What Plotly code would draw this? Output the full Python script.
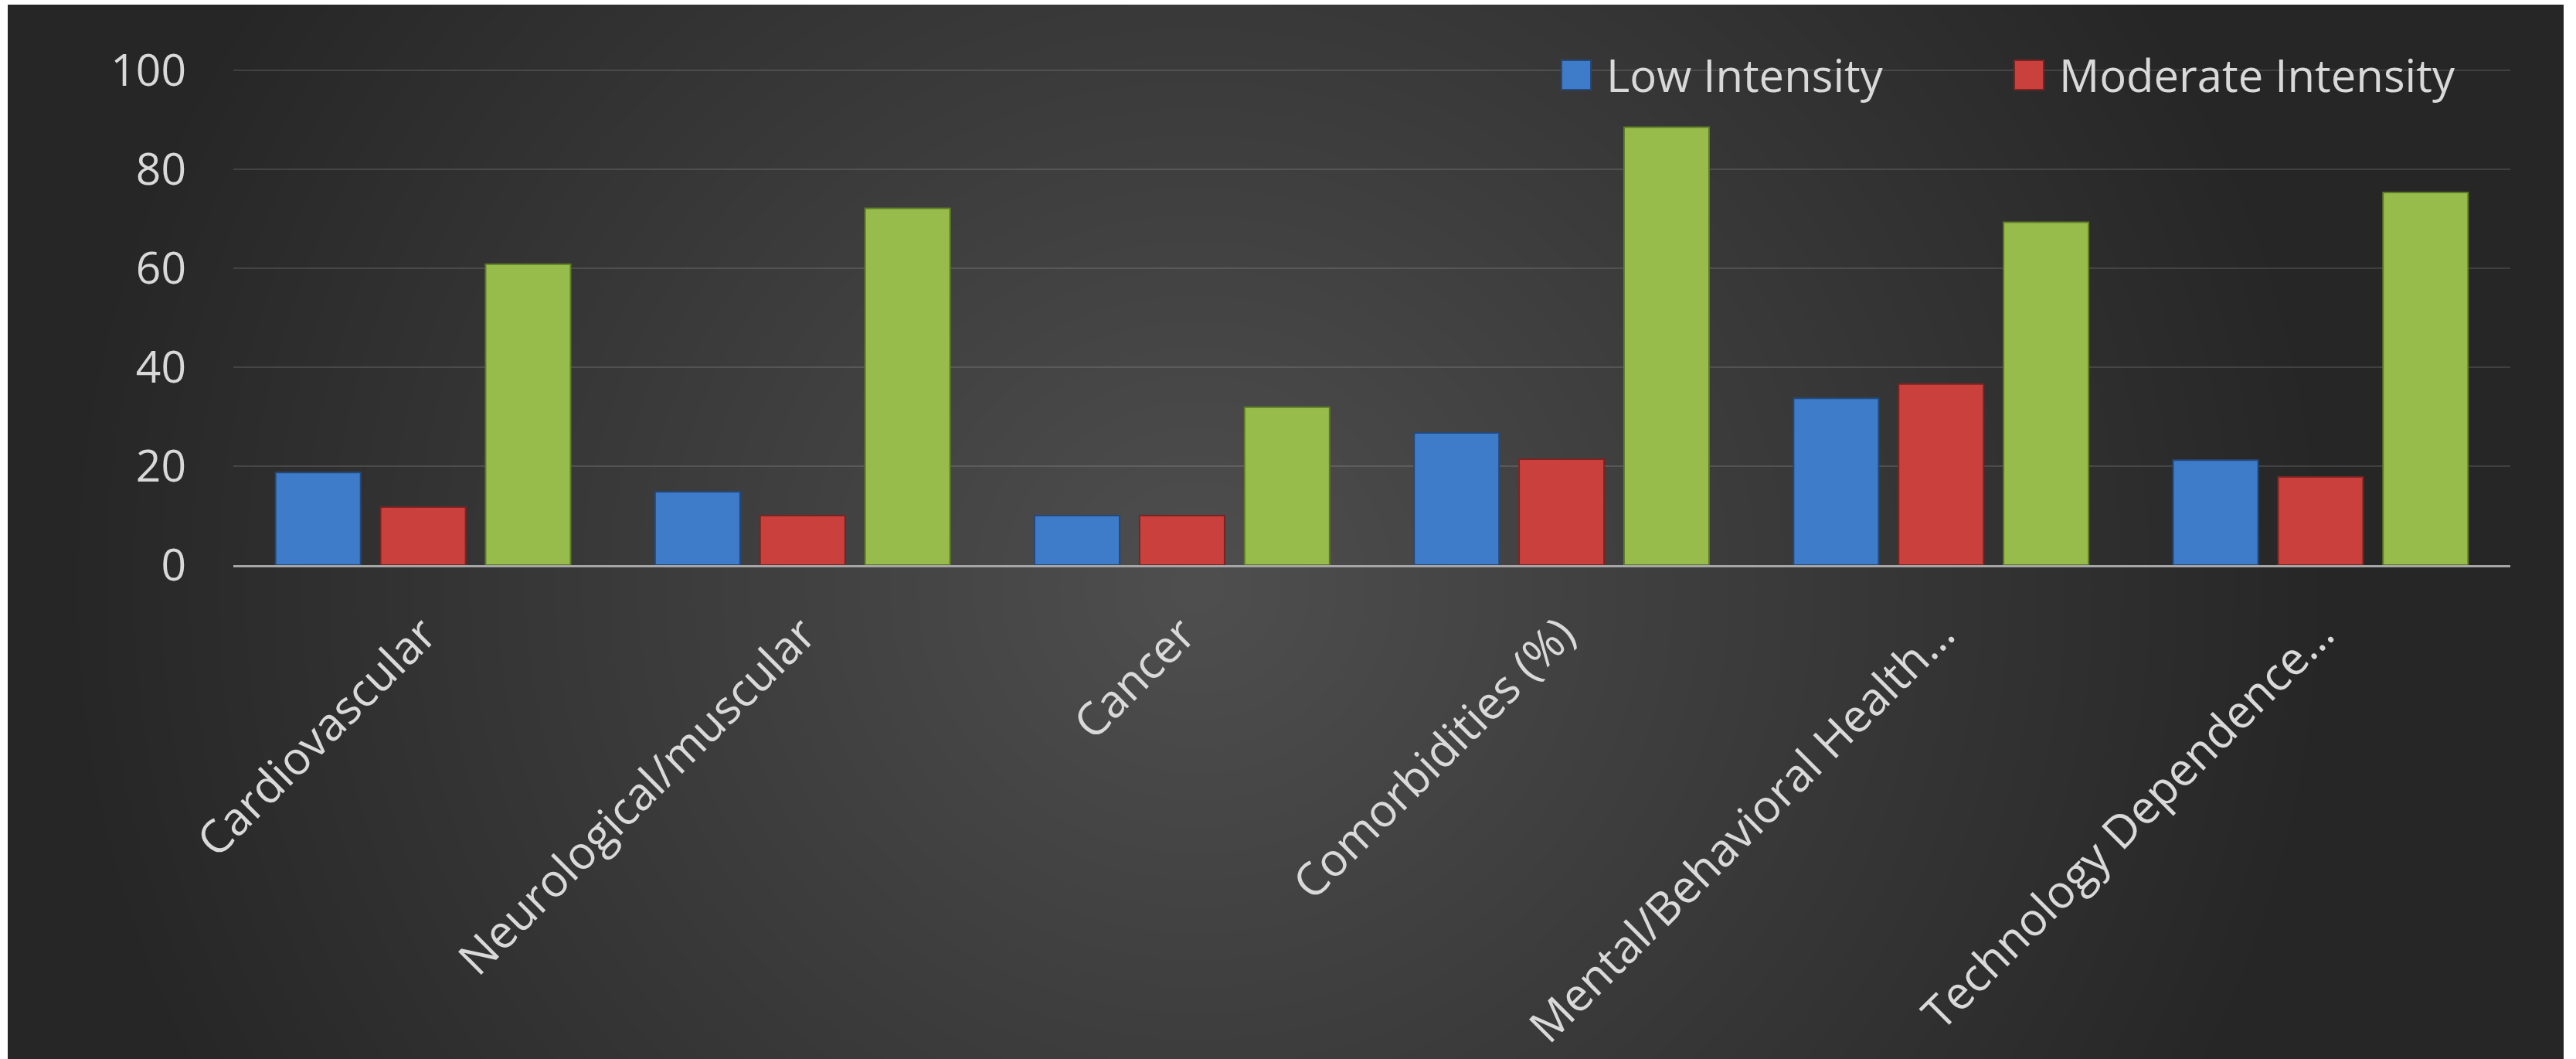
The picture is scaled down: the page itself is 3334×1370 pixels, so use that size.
import plotly.graph_objects as go

categories = ["Cardiovascular", "Neurological/muscular", "Cancer", "Comorbidities (%)",
              "Mental/Behavioral Health…", "Technology Dependence…"]
low_intensity = [18.7, 14.8, 10.0, 26.7, 33.7, 21.2]
moderate_intensity = [11.7, 10.0, 10.0, 21.4, 36.6, 17.8]
high_intensity = [60.8, 72.1, 31.9, 88.5, 69.3, 75.3]
y_ticks = [0, 20, 40, 60, 80, 100]

W, H = 3334, 1370
YMAX = 100.3
L, R, B = 302, 3249, 731
T = B - (B - 91) * YMAX / 100.0  # so that 100 sits at y=91 px

def px(x):
    return (x - L) / (R - L)

def py(y):
    return (B - y) / (B - T)

FONT = "Open Sans"
TXT = "#d9d9d9"

fig = go.Figure()
series = [
    ("Low Intensity", low_intensity, "#3e7bc9", "#24497a"),
    ("Moderate Intensity", moderate_intensity, "#c9403d", "#7a2422"),
    ("High Intensity", high_intensity, "#98bc4b", "#5d7a26"),
]
for name, vals, col, edge in series:
    fig.add_trace(go.Bar(x=categories, y=vals, name=name, showlegend=False,
                         marker=dict(color=col, line=dict(color=edge, width=2))))

shapes = []
# dark panel
shapes.append(dict(type="rect", xref="paper", yref="paper", layer="below",
                   x0=px(10), x1=px(3318), y0=py(1370), y1=py(6),
                   fillcolor="#262626", line=dict(width=0)))
# radial lightening
cx, cy = 1550, 760
N = 40
RMAX = 1450
for k in range(N, 0, -1):
    r = RMAX * k / N
    shapes.append(dict(type="circle", xref="paper", yref="paper", layer="below",
                       x0=px(cx - r), x1=px(cx + r), y0=py(cy + r * 0.95), y1=py(cy - r * 0.95),
                       fillcolor="rgba(255,255,255,0.0068)", line=dict(width=0)))
# white masks outside panel
for (x0, x1, y0, y1) in [(0, 10, -2000, 3000), (3318, 3334 + 50, -2000, 3000),
                         (0, 3400, -2000, 6)]:
    shapes.append(dict(type="rect", xref="paper", yref="paper", layer="below",
                       x0=px(x0), x1=px(x1), y0=py(y1), y1=py(y0),
                       fillcolor="white", line=dict(width=0)))
# manual legend squares
legend_items = [("Low Intensity", 2021, "#3e7bc9", "#24497a"),
                ("Moderate Intensity", 2607, "#c9403d", "#7a2422")]
annotations = []
for name, x0, col, edge in legend_items:
    shapes.append(dict(type="rect", xref="paper", yref="paper", layer="above",
                       x0=px(x0), x1=px(x0 + 38), y0=py(116), y1=py(78),
                       fillcolor=col, line=dict(color=edge, width=2)))
    annotations.append(dict(text=name, xref="paper", yref="paper", x=px(x0 + 56), y=py(97),
                            xanchor="left", yanchor="middle", showarrow=False,
                            font=dict(family=FONT, size=58, color=TXT)))

fig.update_layout(
    width=W, height=H,
    margin=dict(l=L, r=W - R, t=T, b=H - B, pad=0, autoexpand=False),
    paper_bgcolor="white",
    plot_bgcolor="rgba(0,0,0,0)",
    barmode="group",
    bargap=0.17,
    bargroupgap=0.19,
    shapes=shapes,
    annotations=annotations,
    showlegend=False,
    font=dict(family=FONT, color=TXT),
    xaxis=dict(tickangle=-45, tickfont=dict(family=FONT, size=59, color=TXT),
               showgrid=False, showline=True, linecolor="#a6a6a6", linewidth=3,
               ticks="", ticklabelstandoff=28, automargin=False),
    yaxis=dict(range=[0, YMAX], tickvals=y_ticks, tickfont=dict(family=FONT, size=57, color=TXT),
               showgrid=True, gridcolor="rgba(255,255,255,0.12)", gridwidth=2,
               zeroline=False, showline=False, ticks="", ticklabelstandoff=60, automargin=False),
)

fig.write_html("out.html")
